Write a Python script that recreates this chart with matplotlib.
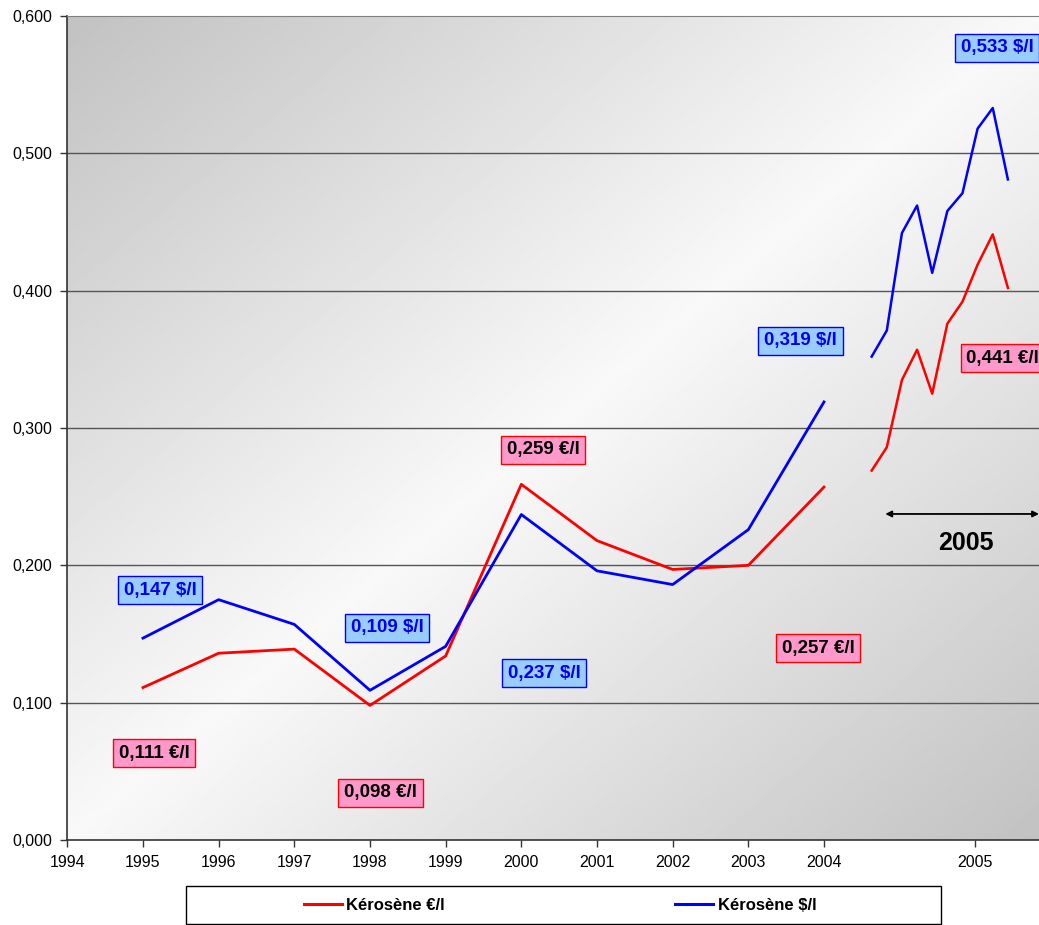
import numpy as np
import matplotlib
matplotlib.use("Agg")
import matplotlib.pyplot as plt
from matplotlib.patches import Rectangle
from matplotlib.lines import Line2D
from matplotlib.ticker import FuncFormatter

plt.rcParams['font.family'] = ['Liberation Sans', 'DejaVu Sans']

# Annual averages 1995-2004
years = [1995, 1996, 1997, 1998, 1999, 2000, 2001, 2002, 2003, 2004]
kero_eur = [0.111, 0.136, 0.139, 0.098, 0.134, 0.259, 0.218, 0.197, 0.200, 0.257]
kero_usd = [0.147, 0.175, 0.157, 0.109, 0.141, 0.237, 0.196, 0.186, 0.226, 0.319]

# Monthly values for 2005
months_2005 = ["jan", "fév", "mar", "avr", "mai", "jun", "jul", "aoû", "sep", "oct"]
kero_eur_2005 = [0.269, 0.286, 0.335, 0.357, 0.325, 0.376, 0.392, 0.419, 0.441, 0.402]
kero_usd_2005 = [0.352, 0.371, 0.442, 0.462, 0.413, 0.458, 0.471, 0.518, 0.533, 0.481]

tick_positions = [1994, 1995, 1996, 1997, 1998, 1999, 2000, 2001, 2002, 2003, 2004, 2006]
tick_labels = ["1994", "1995", "1996", "1997", "1998", "1999", "2000", "2001",
               "2002", "2003", "2004", "2005"]

# Monthly points are spread over the 2005 zone of the axis
month_x = 2004.63 + 0.2 * np.arange(len(months_2005))

RED = "#FF0000"
BLUE = "#0000FF"

W, H = 1039, 925
fig = plt.figure(figsize=(W / 100, H / 100), dpi=100)
ax = fig.add_axes([67.3 / W, 1 - 840 / H, 1 - 67.3 / W, (840 - 16) / H])
ax.set_xlim(1994, 1994 + (W - 67.3) / 75.67)
ax.set_ylim(0, 0.6)

# diagonal gradient background: grey corners, white band across the middle
nx, ny = 400, 400
u = np.linspace(0, 1, nx)[None, :]
v = np.linspace(0, 1, ny)[:, None]
t = (u + v) / 2
shade = 0.76 + (0.975 - 0.76) * (1 - np.abs(2 * t - 1))
ax.imshow(shade, cmap="gray", vmin=0, vmax=1, extent=(0, 1, 0, 1),
          transform=ax.transAxes, aspect="auto", origin="upper", zorder=0,
          interpolation="bilinear")

for yv in [0.1, 0.2, 0.3, 0.4, 0.5]:
    ax.axhline(yv, color="#555555", lw=1.0, zorder=1)

lw = 2.0
ax.plot(years, kero_eur, color=RED, lw=lw, zorder=3)
ax.plot(years, kero_usd, color=BLUE, lw=lw, zorder=3)
ax.plot(month_x, kero_eur_2005, color=RED, lw=1.8, zorder=3)
ax.plot(month_x, kero_usd_2005, color=BLUE, lw=1.8, zorder=3)

# spines and ticks
ax.spines["right"].set_visible(False)
ax.spines["top"].set_color("#808080")
ax.spines["left"].set_color("#333333")
ax.spines["bottom"].set_color("#333333")
ax.spines["left"].set_linewidth(1.2)
ax.spines["bottom"].set_linewidth(1.2)
ax.set_yticks([0, 0.1, 0.2, 0.3, 0.4, 0.5, 0.6])
ax.yaxis.set_major_formatter(FuncFormatter(lambda val, pos: f"{val:.3f}".replace(".", ",")))
ax.set_xticks(tick_positions)
ax.set_xticklabels(tick_labels)
ax.tick_params(axis="both", direction="out", length=5, width=1, color="#333333",
               labelsize=11.5)
ax.tick_params(axis="y", pad=6)
ax.tick_params(axis="x", pad=6)

# value labels
blue_box = dict(boxstyle="square,pad=0.3", fc="#99CCFF", ec=BLUE, lw=1)
red_box = dict(boxstyle="square,pad=0.3", fc="#FF99CC", ec=RED, lw=1)


def fmt(val, unit):
    return f"{val:.3f}".replace(".", ",") + " " + unit


usd_labels = [
    (1995.23, 0.182, kero_usd[0]),
    (1998.23, 0.1544, kero_usd[3]),
    (2000.30, 0.1216, kero_usd[5]),
    (2003.69, 0.3634, kero_usd[9]),
    (2006.29, 0.5768, max(kero_usd_2005)),
]
eur_labels = [
    (1995.15, 0.0631, kero_eur[0]),
    (1998.14, 0.0344, kero_eur[3]),
    (2000.29, 0.284, kero_eur[5]),
    (2003.92, 0.1398, kero_eur[9]),
]
for x, y, val in usd_labels:
    ax.text(x, y, fmt(val, "$/l"), color="#0000EE", fontsize=13.5, fontweight="bold",
            ha="center", va="center", bbox=blue_box, zorder=5, clip_on=False)
for x, y, val in eur_labels:
    ax.text(x, y, fmt(val, "€/l"), color="black", fontsize=13.5, fontweight="bold",
            ha="center", va="center", bbox=red_box, zorder=5, clip_on=False)
ax.text(2005.88, 0.3507, fmt(max(kero_eur_2005), "€/l"), color="black", fontsize=13.5,
        fontweight="bold", ha="left", va="center", bbox=red_box, zorder=5,
        clip_on=False)

# 2005 span marker
ax.annotate("", xy=(ax.get_xlim()[1], 0.2374), xytext=(2004.81, 0.2374),
            arrowprops=dict(arrowstyle="<|-|>", color="black", lw=1.3,
                            mutation_scale=9, shrinkA=0, shrinkB=0),
            annotation_clip=False, zorder=4)
ax.text(2005.88, 0.2163, "2005", fontsize=18, fontweight="bold", ha="center",
        va="center", zorder=4)

# legend frame below the plot
fig.patches.append(Rectangle((186 / W, 1 - 924 / H), 755 / W, 38 / H,
                             transform=fig.transFigure, fc="white", ec="black",
                             lw=1, zorder=0))
handles = [Line2D([], [], color=RED, lw=2.2), Line2D([], [], color=BLUE, lw=2.2)]
fig.legend(handles, ["Kérosène €/l", "Kérosène $/l"], loc="center left",
           bbox_to_anchor=(304 / W, 1 - 905 / H), ncol=2, frameon=False,
           prop=dict(size=12, weight="bold"), handlelength=2.3,
           handletextpad=0.25, columnspacing=13.8, borderpad=0, borderaxespad=0)

fig.savefig("out.png", dpi=100)
